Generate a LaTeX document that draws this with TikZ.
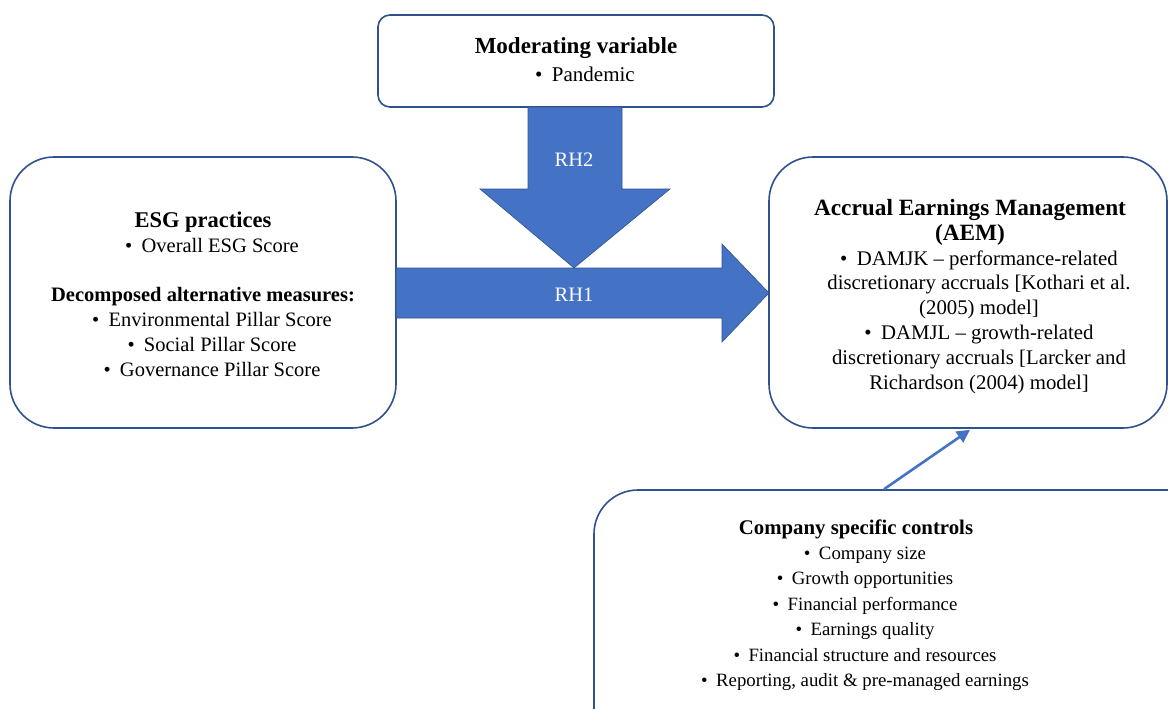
\documentclass[tikz,border=0pt]{standalone}
\usepackage{fontspec}
\setmainfont{Liberation Serif}
\usetikzlibrary{arrows.meta,positioning,calc}
\definecolor{boxline}{RGB}{47,82,143}
\definecolor{arrowblue}{RGB}{68,114,196}
\newcommand{\itm}{\hspace*{18pt}\textbullet\hspace{0.45em}}
\newcommand{\cnt}{\hspace*{18pt}}
\newcommand{\hd}[2]{{\fontsize{#1}{25}\selectfont\textbf{#2}}}

\begin{document}
\begin{tikzpicture}[x=1pt,y=-1pt,
  box/.style={draw=boxline, line width=1.6pt, fill=white, rounded corners=44pt, inner sep=0pt},
  txt/.style={align=center, font=\fontsize{20.5}{25}\selectfont, inner sep=0pt},
  bigarrow/.style={fill=arrowblue, draw=boxline, line width=0.6pt},
  hlabel/.style={text=white, font=\fontsize{20.5}{25}\selectfont, inner sep=0pt},
  arr/.style={-{Triangle[length=13pt,width=13pt]}, line width=2.6pt, color=arrowblue}
]
  \useasboundingbox (0,0) rectangle (1168,709);
  \clip (0,0) rectangle (1168,709);

  \node[box, rounded corners=12pt, minimum width=396pt, minimum height=92pt] (mod) at (576,61) {};
  \node[box, minimum width=386pt, minimum height=271pt] (esg) at (203,292.5) {};
  \node[box, minimum width=398pt, minimum height=271pt] (aem) at (968,292.5) {};
  \node[box, minimum width=660pt, minimum height=320pt] (ctrl) at (924,650) {};

  \filldraw[bigarrow] (396,268) -- (722,268) -- (722,244) -- (769,293) -- (722,342) -- (722,318) -- (396,318) -- cycle;
  \filldraw[bigarrow] (528,107) -- (622,107) -- (622,189) -- (670,189) -- (574,268) -- (480,189) -- (528,189) -- cycle;
  \node[hlabel] (rh2) at (574,160) {RH2};
  \node[hlabel] (rh1) at (574,295) {RH1};

  \node[txt, font=\fontsize{21}{28}\selectfont] (modtxt) at (576,60) {\hd{23}{Moderating variable}\\\itm Pandemic};
  \node[txt] (esgtxt) at (203,294) {\hd{22.5}{ESG practices}\\\itm Overall ESG Score\\[24pt]
    \textbf{Decomposed alternative measures:}\\\itm Environmental Pillar Score\\\itm Social Pillar Score\\\itm Governance Pillar Score};
  \node[txt, font=\fontsize{20.8}{24.9}\selectfont] (aemtxt) at (970,296.5) {\hd{23.3}{Accrual Earnings Management}\\\hd{23.3}{(AEM)}\\
    \itm DAMJK -- performance-related\\\cnt discretionary accruals [Kothari et al.\\\cnt(2005) model]\\
    \itm DAMJL -- growth-related\\\cnt discretionary accruals [Larcker and\\\cnt Richardson (2004) model]};
  \node[txt, font=\fontsize{18.8}{25.4}\selectfont] (ctrltxt) at (856,605) {\hd{20.8}{Company specific controls}\\\itm Company size\\\itm Growth opportunities\\
    \itm Financial performance\\\itm Earnings quality\\\itm Financial structure and resources\\\itm Reporting, audit \& pre-managed earnings};

  \draw[arr] ([xshift=-40pt]ctrl.north) -- ([xshift=2pt,yshift=-1pt]aem.south);
\end{tikzpicture}
\end{document}
